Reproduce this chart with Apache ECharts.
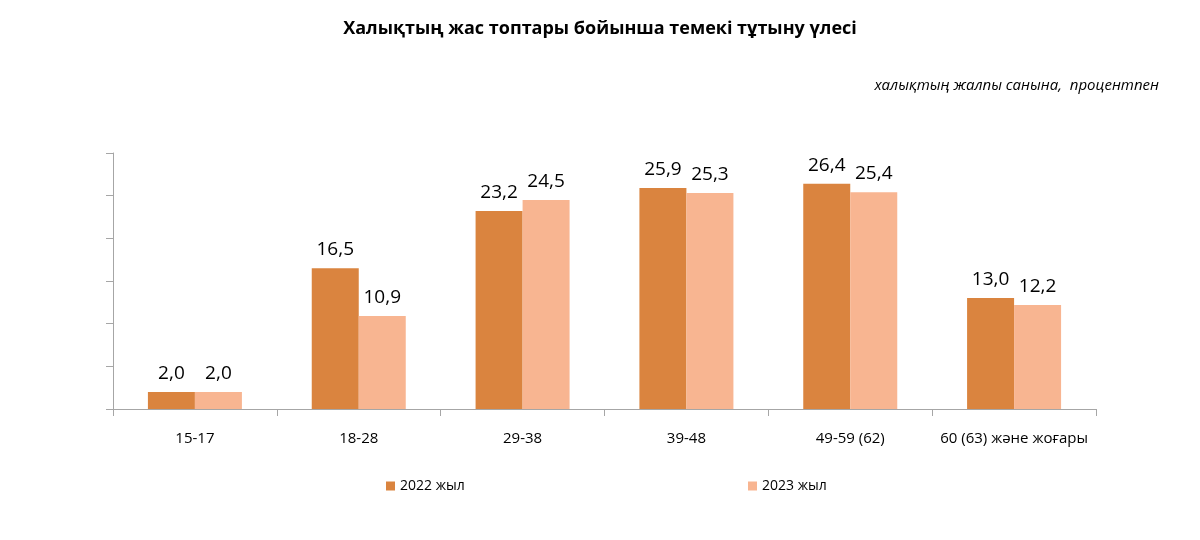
<!DOCTYPE html>
<html>
<head>
<meta charset="utf-8">
<script src="https://cdn.jsdelivr.net/npm/echarts@6/dist/echarts.min.js"></script>
<style>
  html, body { margin: 0; padding: 0; background: #fff; }
  #chart { width: 1200px; height: 540px; }
</style>
</head>
<body>
<div id="chart"></div>
<script>
const categories = ['15-17', '18-28', '29-38', '39-48', '49-59 (62)', '60 (63) және жоғары']
const values2022 = [2.0, 16.5, 23.2, 25.9, 26.4, 13.0]
const values2023 = [2.0, 10.9, 24.5, 25.3, 25.4, 12.2]
const seriesNames = ['2022 жыл', '2023 жыл']

const FONT = '"Open Sans", "Noto Sans", sans-serif'
const fmt = (p) => p.value.toFixed(1).replace('.', ',')

const chart = echarts.init(document.getElementById('chart'))

const labelStyle = {
  show: true,
  position: 'top',
  distance: 9,
  formatter: fmt,
  color: '#000',
  fontSize: 19,
  fontFamily: FONT
}

chart.setOption({
  animation: false,
  title: [
    {
      text: 'Халықтың жас топтары бойынша темекі тұтыну үлесі',
      left: 'center',
      top: 15,
      textStyle: { fontSize: 18, fontWeight: 'bold', color: '#000', fontFamily: FONT }
    },
    {
      text: 'халықтың жалпы санына,  процентпен',
      right: 36,
      top: 73,
      textStyle: { fontSize: 15, fontStyle: 'italic', fontWeight: 'normal', color: '#000', fontFamily: FONT }
    }
  ],
  legend: [
    {
      data: [seriesNames[0]],
      left: 381,
      top: 474,
      itemWidth: 9,
      itemHeight: 9,
      itemGap: 5,
      icon: 'rect',
      textStyle: { fontSize: 14, color: '#000', fontFamily: FONT }
    },
    {
      data: [seriesNames[1]],
      left: 743,
      top: 474,
      itemWidth: 9,
      itemHeight: 9,
      itemGap: 5,
      icon: 'rect',
      textStyle: { fontSize: 14, color: '#000', fontFamily: FONT }
    }
  ],
  grid: { left: 113, right: 104, top: 153, bottom: 131 },
  xAxis: {
    type: 'category',
    data: categories,
    axisLine: { lineStyle: { color: '#a6a6a6', width: 1 } },
    axisTick: { show: true, interval: 0, length: 7, lineStyle: { color: '#a6a6a6' } },
    axisLabel: { interval: 0, color: '#000', fontSize: 15, margin: 22, fontFamily: FONT }
  },
  yAxis: {
    type: 'value',
    min: 0,
    max: 30,
    interval: 5,
    axisLine: { show: true, lineStyle: { color: '#a6a6a6', width: 1 } },
    axisTick: { show: true, length: 7, lineStyle: { color: '#a6a6a6' } },
    axisLabel: { show: false },
    splitLine: { show: false }
  },
  series: [
    {
      name: seriesNames[0],
      type: 'bar',
      data: values2022,
      barWidth: 47,
      barGap: '0%',
      itemStyle: { color: '#da843f' },
      label: labelStyle
    },
    {
      name: seriesNames[1],
      type: 'bar',
      data: values2023,
      barWidth: 47,
      itemStyle: { color: '#f8b591' },
      label: labelStyle
    }
  ]
})
</script>
</body>
</html>
